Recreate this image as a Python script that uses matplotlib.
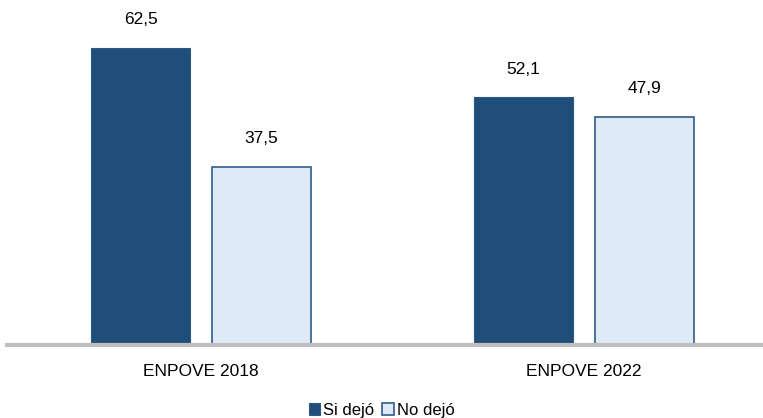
import numpy as np
import matplotlib.pyplot as plt

plt.rcParams['font.family'] = ['Liberation Sans', 'DejaVu Sans']

categorias = ['ENPOVE 2018', 'ENPOVE 2022']
si_dejo = [62.5, 52.1]
no_dejo = [37.5, 47.9]
series = ['Si dejó', 'No dejó']

fig = plt.figure(figsize=(7.63, 4.18), dpi=100)
ax = fig.add_axes([7 / 763, 73 / 418, 756 / 763, 345 / 418])

x = np.arange(len(categorias))
w = 0.258
off = 0.158

b1 = ax.bar(x - off, si_dejo, w, color='#1F4E79', edgecolor='#2A5A85', linewidth=0.8, label=series[0])
b2 = ax.bar(x + off, no_dejo, w, color='#DEEAF6', edgecolor='#2E5E8C', linewidth=1.2, label=series[1])

for barras in (b1, b2):
    for b in barras:
        ax.text(b.get_x() + b.get_width() / 2, b.get_height() + 4.4,
                f"{b.get_height():.1f}".replace('.', ','),
                ha='center', va='bottom', fontsize=12.5)

ax.set_xlim(-0.5065, 1.467)
ax.set_ylim(0, 72.6)
ax.set_xticks(x)
ax.set_xticklabels(categorias, fontsize=12.5)
ax.tick_params(axis='x', length=0, pad=14)
ax.set_yticks([])
for s in ['top', 'right', 'left']:
    ax.spines[s].set_visible(False)
ax.spines['bottom'].set_color('#BFBFBF')
ax.spines['bottom'].set_linewidth(3)

fig.legend(loc='lower center', bbox_to_anchor=(0.5, -0.035), ncol=2, frameon=False,
           fontsize=12, handlelength=0.7, handleheight=0.7, handletextpad=0.15,
           columnspacing=0.5)

fig.savefig('out.png', dpi=100)
